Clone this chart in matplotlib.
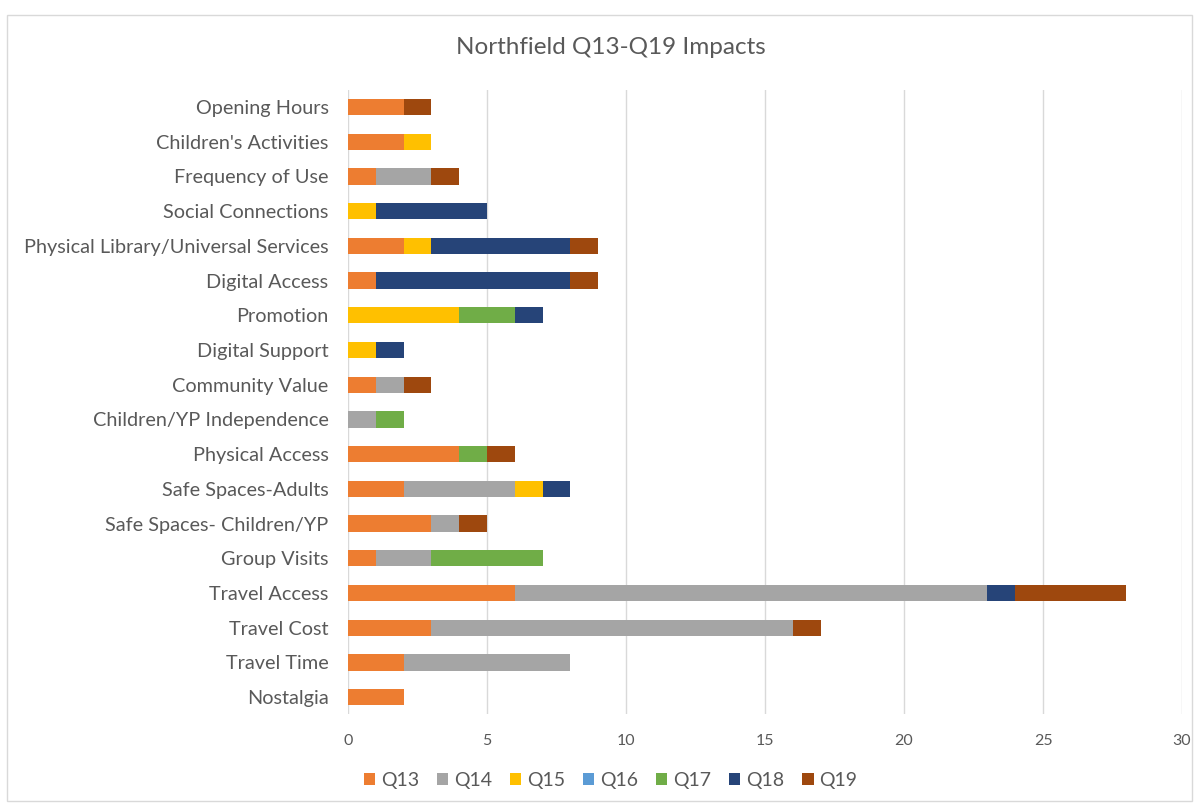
import numpy as np
import matplotlib.pyplot as plt
from matplotlib.patches import Rectangle

plt.rcParams['font.family'] = ['Lato', 'DejaVu Sans']

# categories listed bottom to top
categories = ['Nostalgia', 'Travel Time', 'Travel Cost', 'Travel Access', 'Group Visits',
              'Safe Spaces- Children/YP', 'Safe Spaces-Adults', 'Physical Access',
              'Children/YP Independence', 'Community Value', 'Digital Support', 'Promotion',
              'Digital Access', 'Physical Library/Universal Services', 'Social Connections',
              'Frequency of Use', "Children's Activities", 'Opening Hours']

q13 = [2, 2, 3, 6, 1, 3, 2, 4, 0, 1, 0, 0, 1, 2, 0, 1, 2, 2]
q14 = [0, 6, 13, 17, 2, 1, 4, 0, 1, 1, 0, 0, 0, 0, 0, 2, 0, 0]
q15 = [0, 0, 0, 0, 0, 0, 1, 0, 0, 0, 1, 4, 0, 1, 1, 0, 1, 0]
q16 = [0] * 18
q17 = [0, 0, 0, 0, 4, 0, 0, 1, 1, 0, 0, 2, 0, 0, 0, 0, 0, 0]
q18 = [0, 0, 0, 1, 0, 0, 1, 0, 0, 0, 1, 1, 7, 5, 4, 0, 0, 0]
q19 = [0, 0, 1, 4, 0, 1, 0, 1, 0, 1, 0, 0, 1, 1, 0, 1, 0, 1]

series = ['Q13', 'Q14', 'Q15', 'Q16', 'Q17', 'Q18', 'Q19']
values = [q13, q14, q15, q16, q17, q18, q19]
colors = ['#ED7D31', '#A5A5A5', '#FFC000', '#5B9BD5', '#70AD47', '#264478', '#9E480E']

fig = plt.figure(figsize=(11.97, 8.06), dpi=100)
ax = fig.add_axes([0.2907, 0.1136, 0.6968, 0.7752])

y = np.arange(len(categories))
left = np.zeros(len(categories))
for name, vals, c in zip(series, values, colors):
    vals = np.array(vals, dtype=float)
    ax.barh(y, vals, left=left, height=0.47, color=c, label=name, zorder=3)
    left += vals

ax.set_xlim(0, 30)
ax.set_ylim(-0.5, len(categories) - 0.5)
ax.set_xticks(range(0, 31, 5))
ax.set_yticks(y)
ax.set_yticklabels(categories)
ax.tick_params(axis='y', length=0, labelsize=14.3, labelcolor='#595959', pad=14)
ax.tick_params(axis='x', length=0, labelsize=11.5, labelcolor='#595959', pad=14)
ax.grid(axis='x', color='#D9D9D9', linewidth=1, zorder=0)
for s in ax.spines.values():
    s.set_visible(False)

fig.text(0.51, 0.941, 'Northfield Q13-Q19 Impacts', ha='center', va='center',
         fontsize=17.5, color='#595959')

leg = fig.legend(loc='center', bbox_to_anchor=(0.51, 0.032), ncol=7, frameon=False,
                 fontsize=14, handlelength=0.6, handleheight=0.6, handletextpad=0.3,
                 columnspacing=0.9, labelcolor='#595959')

# outer chart border
fig.patches.append(Rectangle((0.006, 0.006), 0.99, 0.976, transform=fig.transFigure,
                             fill=False, edgecolor='#D9D9D9', linewidth=1))

plt.savefig('out.png', dpi=100)
